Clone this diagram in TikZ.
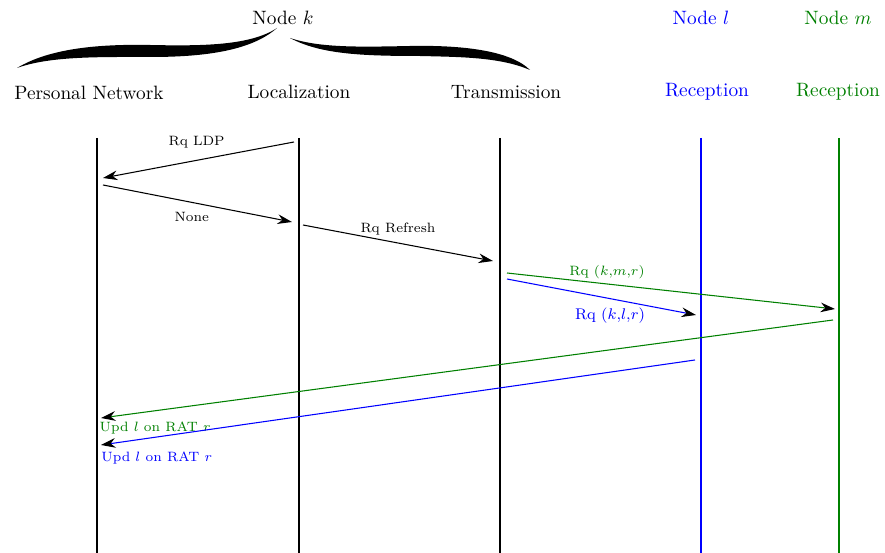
\documentclass[tikz,border=0pt]{standalone}
\usepackage{amsmath,amssymb}
\usepackage{tikz}
\usetikzlibrary{arrows.meta,positioning,calc}
\definecolor{seqBlue}{HTML}{0000FF}
\definecolor{seqGreen}{HTML}{008000}
\tikzset{
  % Column headers above the lifelines.
  seq/head/.style={font=\normalsize, inner sep=1pt, text=black},
  % Lifelines.
  seq/life/.style={line width=1.5pt, draw=black},
  % Messages: thin line, black head whatever the line colour.
  seq/msg/.style={
    -{Stealth[length=7.5pt,width=5pt,color=black]}, line width=0.55pt, draw=black
  },
  % Message labels.
  seq/label/.style={font=\scriptsize, inner sep=1pt, text=black},
}

\begin{document}
\begin{tikzpicture}[x=0.182mm,y=-0.182mm,
  brace/.style={fill=black, draw=none}]

  \useasboundingbox (0,0) rectangle (885,553);

  % headers
  \node[seq/head] (nk) at (283,18) {Node $k$};
  \node[seq/head, text=seqBlue]  (nl) at (701,18) {Node $l$};
  \node[seq/head, text=seqGreen] (nm) at (838,18) {Node $m$};
  \node[seq/head] (pn)  at (89,93)  {Personal Network};
  \node[seq/head] (loc) at (299,92) {Localization};
  \node[seq/head] (tx)  at (506,92) {Transmission};
  \node[seq/head, text=seqBlue]  (rxl) at (707,92) {Reception};
  \node[seq/head, text=seqGreen] (rxm) at (838,92) {Reception};

  % brace under Node k
  \fill[brace] (17,68) .. controls (50,48) and (100,44) .. (150,45)
        .. controls (200,46) and (250,46) .. (277,28)
        .. controls (250,52) and (200,57) .. (150,57)
        .. controls (100,57) and (50,56) .. (17,68) -- cycle;
  \fill[brace] (290,38) .. controls (320,48) and (360,47) .. (410,46)
        .. controls (460,45) and (510,50) .. (530,70)
        .. controls (500,57) and (460,57) .. (420,56)
        .. controls (360,56) and (320,54) .. (290,38) -- cycle;

  % lifelines
  \foreach \name/\xx/\col in {pn/97/black, loc/299/black, tx/500/black,
                              rxl/701/seqBlue, rxm/839/seqGreen}{
    \coordinate (\name-t) at (\xx,138);
    \coordinate (\name-b) at (\xx,553);
    \draw[seq/life, draw=\col] (\name-t) -- (\name-b);
  }

  % message end points
  \coordinate (ldp-s) at (294,142);  \coordinate (ldp-e) at (103,178);
  \coordinate (non-s) at (103,185);  \coordinate (non-e) at (292,222);
  \coordinate (ref-s) at (303,225);  \coordinate (ref-e) at (493,261);
  \coordinate (rqm-s) at (507,273);  \coordinate (rqm-e) at (835,309);
  \coordinate (rql-s) at (507,279);  \coordinate (rql-e) at (696,315);
  \coordinate (upm-s) at (833,320);  \coordinate (upm-e) at (101,418);
  \coordinate (upl-s) at (695,360);  \coordinate (upl-e) at (101,445);

  \draw[seq/msg] (ldp-s) -- node[seq/label, pos=0.51, above=5pt] {Rq LDP} (ldp-e);
  \draw[seq/msg] (non-s) -- node[seq/label, pos=0.47, below=4pt] {None} (non-e);
  \draw[seq/msg] (ref-s) -- node[seq/label, pos=0.5, above=3pt] {Rq Refresh} (ref-e);
  \draw[seq/msg, draw=seqGreen] (rqm-s) --
        node[seq/label, text=seqGreen, pos=0.305, above=1.5pt] {Rq ($k$,$m$,$r$)} (rqm-e);
  \draw[seq/msg, draw=seqBlue] (rql-s) --
        node[seq/label, font=\footnotesize, text=seqBlue, pos=0.545, below=3.5pt] {Rq ($k$,$l$,$r$)} (rql-e);
  \draw[seq/msg, draw=seqGreen] (upm-s) --
        node[seq/label, text=seqGreen, pos=0.926, below=4.5pt] {Upd $l$ on RAT $r$} (upm-e);
  \draw[seq/msg, draw=seqBlue] (upl-s) --
        node[seq/label, text=seqBlue, pos=0.906, below=6.5pt] {Upd $l$ on RAT $r$} (upl-e);
\end{tikzpicture}
\end{document}
